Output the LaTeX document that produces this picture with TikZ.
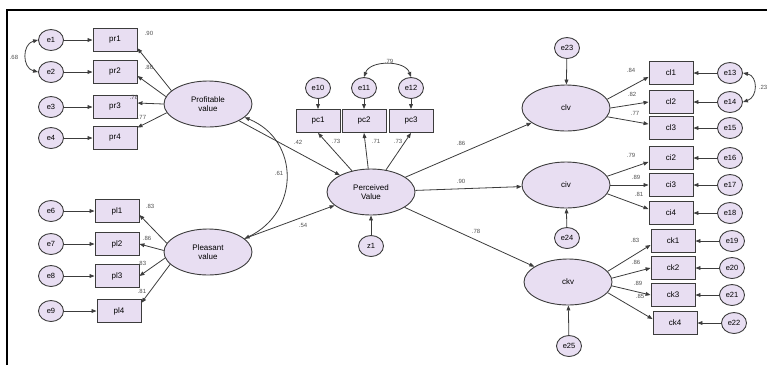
\documentclass[tikz,border=0pt]{standalone}
\usepackage{fontspec}
\setmainfont{Liberation Sans}
\usetikzlibrary{arrows.meta,shapes.geometric}
\definecolor{nfill}{RGB}{232,222,242}
\definecolor{nline}{RGB}{60,60,60}
\definecolor{lbl}{RGB}{80,80,80}
\begin{document}
\begin{tikzpicture}[x=1pt,y=-1pt,
  obs/.style={draw=nline,fill=nfill,line width=0.9pt,minimum width=44pt,minimum height=23pt,inner sep=0pt,font=\fontsize{8}{9}\selectfont},
  lat/.style={ellipse,draw=nline,fill=nfill,line width=0.9pt,minimum width=88pt,minimum height=46pt,inner sep=0pt,align=center,font=\fontsize{8}{9}\selectfont},
  err/.style={ellipse,draw=nline,fill=nfill,line width=0.9pt,minimum width=25pt,minimum height=21pt,inner sep=0pt,font=\fontsize{7.5}{8}\selectfont},
  arr/.style={-{Triangle[length=5pt,width=3.8pt]},draw=nline,line width=0.8pt},
  cov/.style={{Triangle[length=5pt,width=3.8pt]}-{Triangle[length=5pt,width=3.8pt]},draw=nline,line width=0.8pt},
  lab/.style={font=\fontsize{6}{7}\selectfont,text=lbl,inner sep=0pt}]
\useasboundingbox (0,0) rectangle (767,365);
\draw[line width=1.5pt] (7,365) -- (7,10) -- (767,10);

% left upper group
\foreach \n/\y in {1/40,2/72,3/107,4/138}{
  \node[err] (e\n) at (51,\y) {e\n};
  \node[obs] (pr\n) at (115,\y) {pr\n};
  \draw[arr] (e\n) -- (pr\n);
}
\node[lat] (prof) at (208,104) {Profitable\\value};
\draw[arr] (prof.160) -- (pr1.-20);
\draw[arr] (prof.170) -- (pr2.-10);
\draw[arr] (prof.180) -- (pr3.10);
\draw[arr] (prof.192) -- (pr4.25);
\draw[cov] (e1.west) .. controls (22,44) and (22,68) .. (e2.west);
\node[lab] (l68) at (14,57) {.68};
\node[lab] (lpr1) at (149,33) {.90};
\node[lab] (lpr2) at (149,67) {.86};
\node[lab] (lpr3) at (134,97) {.78};
\node[lab] (lpr4) at (142,117) {.77};

% left lower group
\foreach \n/\m/\x/\y in {6/1/117/211,7/2/117/244,8/3/117/276,9/4/119/311}{
  \node[err] (e\n) at (51,\y) {e\n};
  \node[obs] (pl\m) at (\x,\y) {pl\m};
  \draw[arr] (e\n) -- (pl\m);
}
\node[lat] (pleas) at (208,252) {Pleasant\\value};
\draw[arr] (pleas.168) -- (pl1.-10);
\draw[arr] (pleas.178) -- (pl2.east);
\draw[arr] (pleas.188) -- (pl3.east);
\draw[arr] (pleas.198) -- (pl4.20);
\node[lab] (lpl1) at (150,206) {.83};
\node[lab] (lpl2) at (147,238) {.86};
\node[lab] (lpl3) at (142,263) {.83};
\node[lab] (lpl4) at (142,291) {.81};

% covariance between left latents
\draw[cov] (prof.-20) .. controls (300,140) and (300,212) .. (pleas.20);
\node[lab] (l61) at (279,173) {.61};

% perceived value
\node[lat] (perc) at (371,192) {Perceived\\Value};
\node[err] (z1) at (371,246) {z1};
\draw[arr] (z1) -- (perc);
\draw[arr] (prof) -- (perc);
\draw[arr] (pleas) -- (perc);
\node[lab] (l42) at (298,142) {.42};
\node[lab] (l54) at (303,225) {.54};

\foreach \n/\e/\x in {1/10/318,2/11/364,3/12/411}{
  \node[err] (e\e) at (\x,88) {e\e};
  \node[obs] (pc\n) at (\x,121) {pc\n};
  \draw[arr] (e\e) -- (pc\n);
  \draw[arr] (perc) -- (pc\n.south);
}
\draw[cov] (e11.north) .. controls (370,60) and (405,60) .. (e12.north);
\node[lab] (l79) at (389,61) {.79};
\node[lab] (lpc1) at (336,141) {.73};
\node[lab] (lpc2) at (376,141) {.71};
\node[lab] (lpc3) at (398,141) {.73};

% right latents
\node[lat] (clv) at (566,108) {clv};
\node[lat] (civ) at (566,185) {civ};
\node[lat] (ckv) at (568,282) {ckv};
\node[err] (e23) at (567,48) {e23};
\node[err] (e24) at (567,238) {e24};
\node[err] (e25) at (569,346) {e25};
\draw[arr] (e23) -- (clv);
\draw[arr] (e24) -- (civ);
\draw[arr] (e25) -- (ckv);
\draw[arr] (perc) -- (clv);
\draw[arr] (perc) -- (civ);
\draw[arr] (perc) -- (ckv);
\node[lab] (l86) at (461,143) {.86};
\node[lab] (l90) at (461,181) {.90};
\node[lab] (l78) at (476,231) {.78};

% right indicators
\foreach \b/\e/\x/\y in {cl1/13/671/73,cl2/14/671/102,cl3/15/671/128,ci2/16/671/158,ci3/17/671/185,ci4/18/671/213,ck1/19/673/241,ck2/20/673/268,ck3/21/673/295,ck4/22/675/323}{
  \node[obs] (\b) at (\x,\y) {\b};
  \node[err] (e\e) at (\x+59,\y) {e\e};
  \draw[arr] (e\e) -- (\b);
}
\draw[arr] (clv.12) -- (cl1.190);
\draw[arr] (clv.0) -- (cl2.west);
\draw[arr] (clv.-12) -- (cl3.170);
\draw[arr] (civ.12) -- (ci2.190);
\draw[arr] (civ.0) -- (ci3.west);
\draw[arr] (civ.-12) -- (ci4.170);
\draw[arr] (ckv.15) -- (ck1.190);
\draw[arr] (ckv.5) -- (ck2.west);
\draw[arr] (ckv.-5) -- (ck3.west);
\draw[arr] (ckv.-15) -- (ck4.170);
\draw[cov] (e13.east) .. controls (758,76) and (758,97) .. (e14.east);
\node[lab] (l23) at (763,87) {.23};
\node[lab] (lcl1) at (631,70) {.84};
\node[lab] (lcl2) at (632,94) {.82};
\node[lab] (lcl3) at (635,113) {.77};
\node[lab] (lci2) at (631,155) {.79};
\node[lab] (lci3) at (636,177) {.89};
\node[lab] (lci4) at (639,194) {.81};
\node[lab] (lck1) at (635,240) {.83};
\node[lab] (lck2) at (636,262) {.86};
\node[lab] (lck3) at (638,283) {.89};
\node[lab] (lck4) at (640,296) {.85};
\end{tikzpicture}
\end{document}
